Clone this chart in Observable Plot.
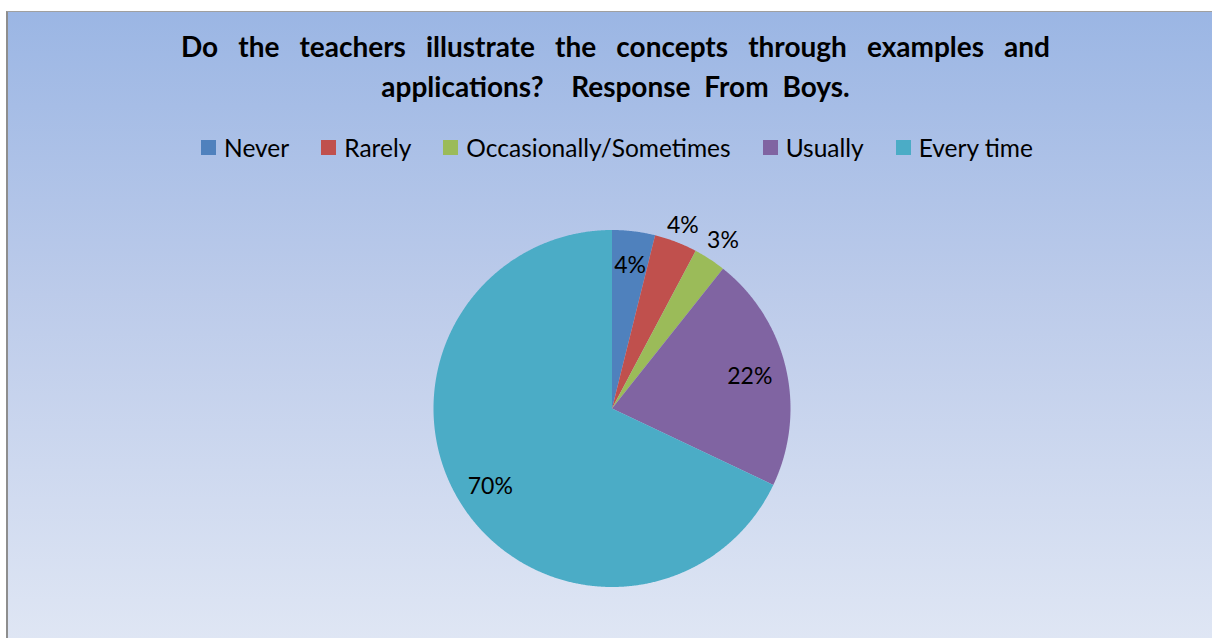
<!DOCTYPE html>
<html>
<head>
<meta charset="utf-8">
<script src="https://cdn.jsdelivr.net/npm/d3@7"></script>
<script src="https://cdn.jsdelivr.net/npm/@observablehq/plot@0.6"></script>
<style>
  html, body { margin: 0; padding: 0; background: #fff; width: 1212px; height: 638px; overflow: hidden; }
  #chart {
    position: absolute; left: 6px; top: 11px; width: 1206px; height: 627px;
    border-left: 2px solid #8e8e8e; border-top: 1px solid #a0a0a0;
    background: linear-gradient(to bottom, #9bb6e4 0%, #bccbea 45%, #dfe6f4 100%);
    font-family: Lato, "Open Sans", sans-serif; color: #000;
  }
  #title { position: absolute; left: 173px; top: 14px; width: 869px; font-weight: bold; font-size: 28px; line-height: 40px; }
  #title .l1 { text-align: justify; text-align-last: justify; }
  #title .l2 { text-align: center; word-spacing: 7px; }
  #legend { position: absolute; top: 121px; left: -2px; width: 1222px; display: flex; justify-content: center; gap: 32px; font-size: 24.5px; }
  #legend .item { display: flex; align-items: center; }
  #legend .sw { width: 15px; height: 15px; margin-right: 8px; }
  #plot { position: absolute; left: 0; top: 168px; }
</style>
</head>
<body>
<div id="chart">
  <div id="title"><div class="l1">Do the teachers illustrate the concepts through examples and</div><div class="l2">applications?&nbsp; Response From Boys.</div></div>
  <div id="legend"></div>
  <div id="plot"></div>
</div>
<script>
const categories = ["Never", "Rarely", "Occasionally/Sometimes", "Usually", "Every time"];
const values = [4, 4, 3, 22, 70];
const labels = ["4%", "4%", "3%", "22%", "70%"];
const colors = ["#4f81bd", "#c0504d", "#9bbb59", "#8064a2", "#4bacc6"];

// label placement (layout): fraction of radius
const labelRadius = [0.81, 1.1, 1.13, 0.79, 0.81];

const rows = categories.map((c, i) => ({key: c, value: values[i], label: labels[i]}));
const arcs = d3.pie().sort(null).value(d => d.value)(rows);

const points = [];
arcs.forEach(a => {
  const n = Math.max(2, Math.ceil((a.endAngle - a.startAngle) / 0.005));
  for (let k = 0; k <= n; k++) {
    const t = a.startAngle + (a.endAngle - a.startAngle) * k / n;
    points.push({key: a.data.key, x: Math.sin(t), y: Math.cos(t)});
  }
});
const labelData = arcs.map((a, i) => {
  const m = (a.startAngle + a.endAngle) / 2;
  return {text: a.data.label, x: labelRadius[i] * Math.sin(m), y: labelRadius[i] * Math.cos(m)};
});

// legend
const legend = document.getElementById("legend");
categories.forEach((c, i) => {
  const it = document.createElement("div");
  it.className = "item";
  it.innerHTML = `<div class="sw" style="background:${colors[i]}"></div><span>${c}</span>`;
  legend.appendChild(it);
});

const R = 178.5, cx = 604, cy = 228.5;
const chart = Plot.plot({
  width: 1206, height: 459,
  margin: 0,
  style: {background: "transparent", fontFamily: "Lato, 'Open Sans', sans-serif"},
  x: {domain: [-1, 1], range: [cx - R, cx + R], axis: null},
  y: {domain: [-1, 1], range: [cy + R, cy - R], axis: null},
  color: {domain: categories, range: colors},
  marks: [
    Plot.area(points, {x1: "x", y1: "y", x2: 0, y2: 0, z: "key", fill: "key", curve: "linear"}),
    Plot.text(labelData, {x: "x", y: "y", text: "text", fontSize: 23, fill: "#000"})
  ]
});
document.getElementById("plot").appendChild(chart);
</script>
</body>
</html>
